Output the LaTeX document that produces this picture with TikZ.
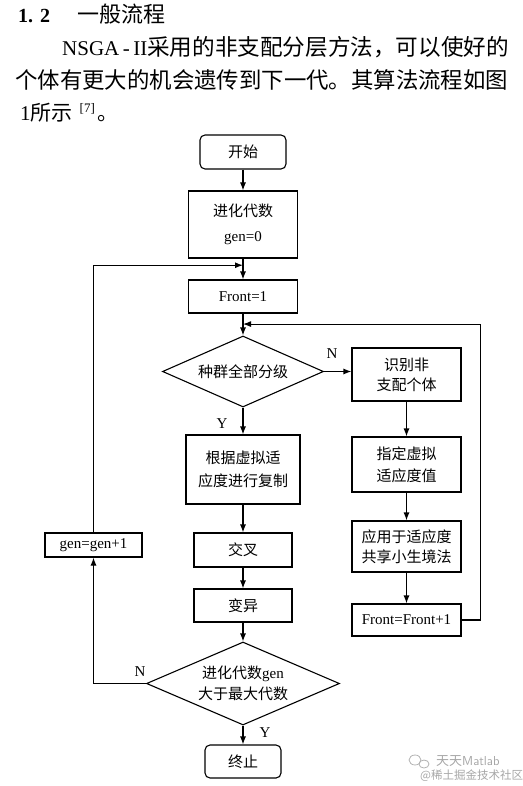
\documentclass[tikz,border=0pt]{standalone}
\usepackage{fontspec}
\setmainfont{Liberation Serif}
\newfontfamily\cjk{Noto Sans CJK SC}
\usetikzlibrary{shapes.geometric,arrows.meta,calc}
\newcommand\myfs[2]{\fontsize{#1}{#2}\selectfont}
\begin{document}
\begin{tikzpicture}[x=1pt,y=-1pt,
  box/.style={draw, line width=1.1pt, inner sep=0pt, align=center, font=\myfs{15}{20}},
  rbox/.style={box, rounded corners=5pt},
  dia/.style={draw, line width=1.1pt, diamond, inner sep=0pt, align=center, font=\myfs{15}{21}},
  arr/.style={line width=1.1pt, -{Latex[length=8pt,width=6pt]}},
  lab/.style={font=\myfs{15}{15}, inner sep=0pt},
  wm/.style={text=black!35, inner sep=0pt}
]
\useasboundingbox (0,0) rectangle (522,786);

% heading and paragraph
\node[anchor=base west, inner sep=0pt, font=\bfseries\myfs{20}{20}] (h1) at (18,23) {1.\hspace{7pt}2};
\node[anchor=base west, inner sep=0pt, font=\cjk\myfs{22}{22}] (h2) at (77,23) {一般流程};
\node[anchor=base west, inner sep=0pt] (p1) at (62,56)
  {\myfs{21}{21}NSGA\,-\,II{\cjk\myfs{22.6}{22.6}采用的非支配分层方法，可以使好的}};
\node[anchor=base west, inner sep=0pt, font=\cjk\myfs{22.4}{22.4}] (p2) at (15,89)
  {个体有更大的机会遗传到下一代。其算法流程如图};
\node[anchor=base west, inner sep=0pt] (p3) at (20,121)
  {\myfs{21}{21}1{\cjk\myfs{21}{21}所示}\hspace{7pt}\raisebox{8pt}{\myfs{13}{13}[7]}\hspace{3pt}{\cjk\myfs{21}{21}。}};

% main column
\node[rbox, minimum width=86pt, minimum height=34pt] (start) at (243,152) {\cjk 开始};
\node[box, minimum width=109pt, minimum height=67pt, font=\myfs{15}{25}] (evo) at (243,224.5) {{\cjk 进化代数}\\gen=0};
\node[box, minimum width=109pt, minimum height=33pt] (front1) at (243,296.5) {Front=1};
\node[dia, aspect=2.27, minimum width=161pt, minimum height=71pt] (d1) at (243,371.5) {\cjk 种群全部分级};
\node[box, minimum width=114pt, minimum height=69pt, font=\myfs{15}{23}] (copy) at (243,469.5) {\cjk 根据虚拟适\\\cjk 应度进行复制};
\node[box, minimum width=98pt, minimum height=34pt] (cross) at (243,550) {\cjk 交叉};
\node[box, minimum width=98pt, minimum height=33pt] (mut) at (243,605.5) {\cjk 变异};
\node[dia, aspect=2.33, minimum width=193pt, minimum height=83pt] (d2) at (243,683.5) {{\cjk 进化代数}gen\\\cjk 大于最大代数};
\node[rbox, minimum width=76pt, minimum height=33pt] (stop) at (243,761.5) {\cjk 终止};

% left box
\node[box, minimum width=97pt, minimum height=24pt] (gen) at (93.5,545) {gen=gen+1};

% right column
\node[box, minimum width=109pt, minimum height=53pt] (id) at (406.5,374.5) {\cjk 识别非\\\cjk 支配个体};
\node[box, minimum width=109pt, minimum height=55pt, font=\myfs{15}{22}] (assign) at (406.5,464.5) {\cjk 指定虚拟\\\cjk 适应度值};
\node[box, minimum width=109pt, minimum height=51pt] (share) at (406.5,546.5) {\cjk 应用于适应度\\\cjk 共享小生境法};
\node[box, minimum width=109pt, minimum height=32pt] (fplus) at (406.5,620) {Front=Front+1};

% junctions
\coordinate (j1) at ($(evo.south)!0.32!(front1.north)$);
\coordinate (j2) at ($(front1.south)!0.48!(d1.north)$);

% connectors
\draw[arr] (start) -- (evo);
\draw[arr] (evo) -- (front1);
\draw[arr] (front1) -- (d1);
\draw[arr] (d1.east) -- (d1.east -| id.west);
\draw[arr] (d1) -- (copy);
\draw[arr] (copy) -- (cross);
\draw[arr] (cross) -- (mut);
\draw[arr] (mut) -- (d2);
\draw[arr] (d2) -- (stop);
\draw[arr] (d2.west) -| (gen.south);
\draw[arr] (gen.north) |- (j1);
\draw[arr] (id) -- (assign);
\draw[arr] (assign) -- (share);
\draw[arr] (share) -- (fplus);
\draw[arr] (fplus.east) -- ++(19,0) |- (j2);

% labels
\node[lab] (n1) at (332,354) {N};
\node[lab] (y1) at (222,424) {Y};
\node[lab] (n2) at (140,672) {N};
\node[lab] (y2) at (265,733) {Y};

% watermark
\draw[black!30, line width=0.8pt] (415,760) ellipse (6pt and 5pt);
\draw[black!30, line width=0.8pt] (424,764) ellipse (5pt and 4pt);
\node[wm, anchor=west, font=\myfs{13}{13}] (wm1) at (436,761) {{\cjk 天天}\sffamily Matlab};
\node[wm, anchor=west, font=\cjk\myfs{11.5}{11.5}] (wm2) at (420,776) {@稀土掘金技术社区};
\end{tikzpicture}
\end{document}
